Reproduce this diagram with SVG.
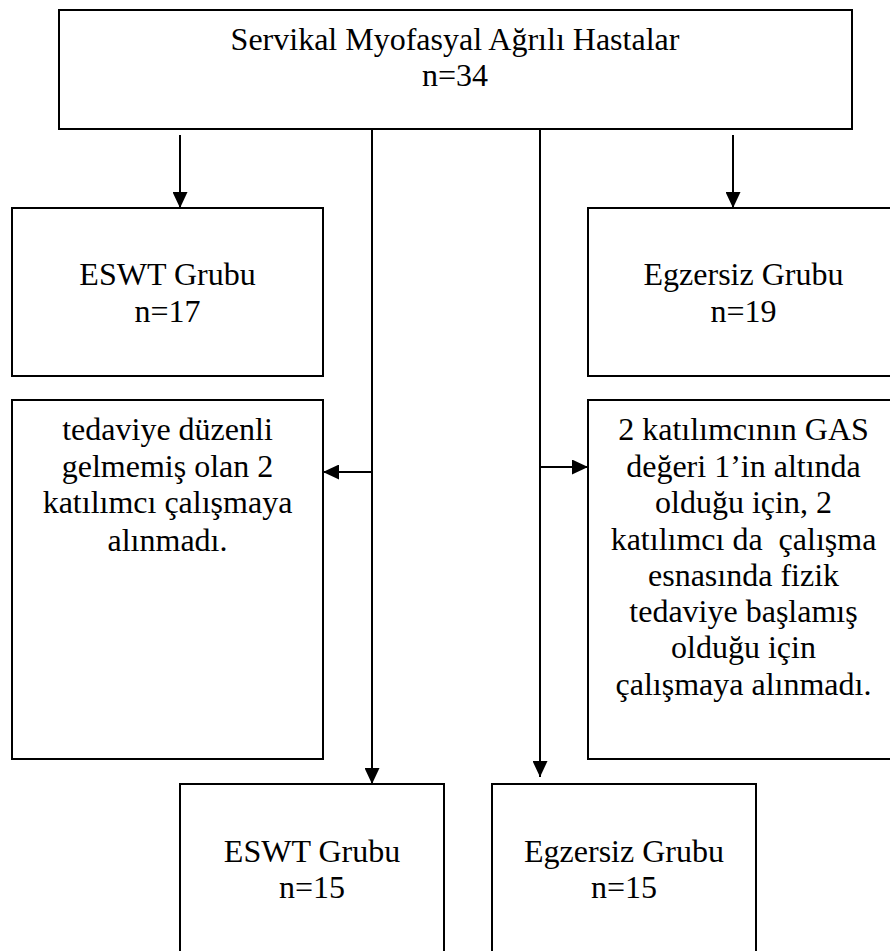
<svg xmlns="http://www.w3.org/2000/svg" width="890" height="951" viewBox="0 0 890 951">
<style>
.box{fill:#fff;stroke:#000;stroke-width:2}
text{font-family:'Liberation Serif','Times New Roman',Times,serif;font-size:32px;fill:#000;text-anchor:middle}
.c{fill:none;stroke:#000;stroke-width:2}
</style>
<defs>
<marker id="ah" markerUnits="userSpaceOnUse" markerWidth="17" markerHeight="15" refX="16" refY="7.5" orient="auto">
<path d="M0,0 L16,7.5 L0,15 Z" fill="#000"/>
</marker>
</defs>
<rect width="890" height="951" fill="#fff"/>
<g id="connectors">
<path class="c" d="M180,135 V208" marker-end="url(#ah)"/>
<path class="c" d="M733,135 V208" marker-end="url(#ah)"/>
<path class="c" d="M372,129 V784" marker-end="url(#ah)"/>
<path class="c" d="M540,129 V777" marker-end="url(#ah)"/>
<path class="c" d="M372,472 H323" marker-end="url(#ah)"/>
<path class="c" d="M540,467 H588" marker-end="url(#ah)"/>
</g>
<g id="top">
<rect class="box" x="59" y="10" width="793" height="119"/>
<text x="455" y="50" font-family="Liberation Serif">Servikal Myofasyal Ağrılı Hastalar</text>
<text x="455" y="86" font-family="Liberation Serif">n=34</text>
</g>
<g id="eswt17">
<rect class="box" x="12" y="208" width="311" height="168"/>
<text x="167.5" y="285">ESWT Grubu</text>
<text x="167.5" y="322">n=17</text>
</g>
<g id="egz19">
<rect class="box" x="588" y="208" width="311" height="168"/>
<text x="743.5" y="285">Egzersiz Grubu</text>
<text x="743.5" y="322">n=19</text>
</g>
<g id="leftnote">
<rect class="box" x="12" y="400" width="311" height="359"/>
<text x="167.5" y="440">tedaviye düzenli</text>
<text x="167.5" y="477">gelmemiş olan 2</text>
<text x="167.5" y="513">katılımcı çalışmaya</text>
<text x="167.5" y="551">alınmadı.</text>
</g>
<g id="rightnote">
<rect class="box" x="588" y="400" width="311" height="359"/>
<text x="743.5" y="440">2 katılımcının GAS</text>
<text x="743.5" y="477">değeri 1’in altında</text>
<text x="743.5" y="513">olduğu için, 2</text>
<text x="743.5" y="550" xml:space="preserve">katılımcı da  çalışma</text>
<text x="743.5" y="586">esnasında fizik</text>
<text x="743.5" y="622">tedaviye başlamış</text>
<text x="743.5" y="658">olduğu için</text>
<text x="743.5" y="695">çalışmaya alınmadı.</text>
</g>
<g id="eswt15">
<rect class="box" x="180" y="784" width="264" height="180"/>
<text x="312" y="862">ESWT Grubu</text>
<text x="312" y="898">n=15</text>
</g>
<g id="egz15">
<rect class="box" x="492" y="784" width="264" height="180"/>
<text x="624" y="862">Egzersiz Grubu</text>
<text x="624" y="898">n=15</text>
</g>
</svg>
